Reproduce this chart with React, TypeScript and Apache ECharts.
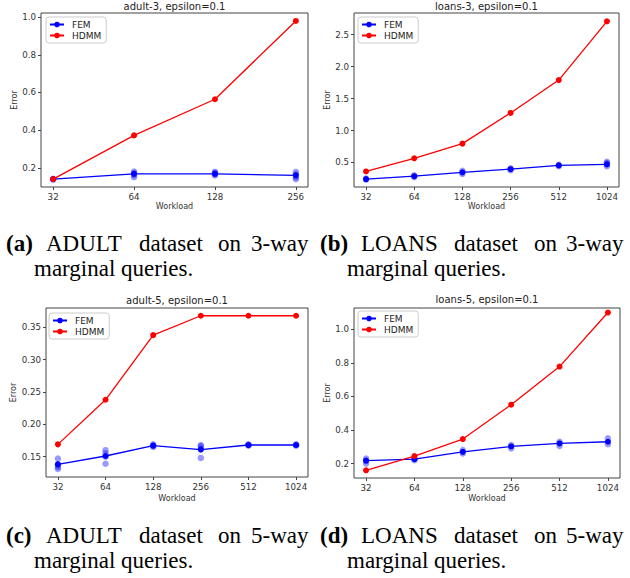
import React, { useEffect, useRef } from "react";
import * as echarts from "echarts";

// ---------- data ----------
const WORKLOADS_ADULT3 = [32, 64, 128, 256];
const HDMM_ADULT3 = [0.14, 0.372, 0.564, 0.98];
const FEM_ADULT3 = [0.14, 0.168, 0.168, 0.16];
const FEM_RUNS_ADULT3 = [
  [0.137, 0.142],
  [0.15, 0.162, 0.172, 0.18],
  [0.16, 0.166, 0.174, 0.178],
  [0.14, 0.15, 0.166, 0.178],
];

const WORKLOADS_LOANS3 = [32, 64, 128, 256, 512, 1024];
const HDMM_LOANS3 = [0.36, 0.565, 0.795, 1.275, 1.79, 2.71];
const FEM_LOANS3 = [0.24, 0.285, 0.345, 0.395, 0.455, 0.47];
const FEM_RUNS_LOANS3 = [
  [0.23, 0.25],
  [0.27, 0.3],
  [0.32, 0.37],
  [0.38, 0.41],
  [0.44, 0.465],
  [0.44, 0.49, 0.51],
];

const WORKLOADS_ADULT5 = [32, 64, 128, 256, 512, 1024];
const HDMM_ADULT5 = [0.169, 0.238, 0.338, 0.368, 0.368, 0.368];
const FEM_ADULT5 = [0.138, 0.151, 0.167, 0.161, 0.168, 0.168];
const FEM_RUNS_ADULT5 = [
  [0.131, 0.134, 0.138, 0.147],
  [0.139, 0.15, 0.155, 0.16],
  [0.165, 0.167, 0.169],
  [0.148, 0.162, 0.166, 0.168],
  [0.167, 0.168, 0.169],
  [0.167, 0.168, 0.169],
];

const WORKLOADS_LOANS5 = [32, 64, 128, 256, 512, 1024];
const HDMM_LOANS5 = [0.16, 0.245, 0.346, 0.551, 0.778, 1.1];
const FEM_LOANS5 = [0.218, 0.226, 0.27, 0.302, 0.32, 0.33];
const FEM_RUNS_LOANS5 = [
  [0.2, 0.215, 0.23],
  [0.22, 0.23],
  [0.26, 0.28],
  [0.29, 0.31],
  [0.305, 0.33],
  [0.315, 0.35],
];

const Y_TICKS_ADULT3 = [0.2, 0.4, 0.6, 0.8, 1.0];
const Y_TICKS_LOANS3 = [0.5, 1.0, 1.5, 2.0, 2.5];
const Y_TICKS_ADULT5 = [0.15, 0.2, 0.25, 0.3, 0.35];
const Y_TICKS_LOANS5 = [0.2, 0.4, 0.6, 0.8, 1.0];

const TITLES = ["adult-3, epsilon=0.1", "loans-3, epsilon=0.1", "adult-5, epsilon=0.1", "loans-5, epsilon=0.1"];
const SERIES_NAMES = ["FEM", "HDMM"];
const X_NAME = "Workload";
const Y_NAME = "Error";

const CAPTION_TAGS = ["(a)", "(b)", "(c)", "(d)"];
const CAPTION_LINE1 = [
  "ADULT dataset on 3-way",
  "LOANS dataset on 3-way",
  "ADULT dataset on 5-way",
  "LOANS dataset on 5-way",
];
const CAPTION_LINE2 = "marginal queries.";

// ---------- layout ----------
const PANELS = [
  {
    workloads: WORKLOADS_ADULT3, hdmm: HDMM_ADULT3, fem: FEM_ADULT3, runs: FEM_RUNS_ADULT3,
    yTicks: Y_TICKS_ADULT3, digits: 1, yMin: 0.098, yMax: 1.022, xMin: 4.85, xMax: 8.15,
    grid: { left: 41, top: 13, width: 267, height: 174 }, legend: { left: 46, top: 17 },
    titleY: 6, xNameGap: 15, yNameGap: 21,
  },
  {
    workloads: WORKLOADS_LOANS3, hdmm: HDMM_LOANS3, fem: FEM_LOANS3, runs: FEM_RUNS_LOANS3,
    yTicks: Y_TICKS_LOANS3, digits: 1, yMin: 0.116, yMax: 2.84, xMin: 4.75, xMax: 10.25,
    grid: { left: 354, top: 13, width: 265, height: 174 }, legend: { left: 358, top: 17 },
    titleY: 6, xNameGap: 15, yNameGap: 21,
  },
  {
    workloads: WORKLOADS_ADULT5, hdmm: HDMM_ADULT5, fem: FEM_ADULT5, runs: FEM_RUNS_ADULT5,
    yTicks: Y_TICKS_ADULT5, digits: 2, yMin: 0.1185, yMax: 0.38, xMin: 4.75, xMax: 10.25,
    grid: { left: 46, top: 308, width: 262, height: 169 }, legend: { left: 49, top: 313 },
    titleY: 300, xNameGap: 17, yNameGap: 26,
  },
  {
    workloads: WORKLOADS_LOANS5, hdmm: HDMM_LOANS5, fem: FEM_LOANS5, runs: FEM_RUNS_LOANS5,
    yTicks: Y_TICKS_LOANS5, digits: 1, yMin: 0.114, yMax: 1.127, xMin: 4.75, xMax: 10.25,
    grid: { left: 354, top: 308, width: 266, height: 170 }, legend: { left: 358, top: 311 },
    titleY: 299, xNameGap: 16, yNameGap: 21,
  },
];

// left edge of the tag, then of each word on line 1; left edge of line 2; line centres
const CAPTIONS = [
  { xs: [6, 46, 139, 218, 251], x2: 34, y1: 243, y2: 268 },
  { xs: [320, 361, 454, 534, 566], x2: 347, y1: 243, y2: 268 },
  { xs: [6, 46, 139, 218, 251], x2: 34, y1: 535, y2: 560 },
  { xs: [320, 361, 454, 534, 566], x2: 347, y1: 535, y2: 560 },
];

const CAP_FONT = 23;
const SERIF = '"Liberation Serif", "Times New Roman", serif';
const SANS = '"DejaVu Sans", sans-serif';

function buildCaptionGraphics() {
  const els: any[] = [];
  CAPTIONS.forEach((cap, i) => {
    els.push({
      type: "text", x: cap.xs[0], y: cap.y1,
      style: { text: CAPTION_TAGS[i], fontFamily: SERIF, fontWeight: "bold", fontSize: CAP_FONT, fill: "#000", textAlign: "left", textVerticalAlign: "middle" },
    });
    const words = CAPTION_LINE1[i].split(" ");
    words.forEach((w, k) => {
      els.push({
        type: "text", x: cap.xs[k + 1], y: cap.y1,
        style: { text: w, fontFamily: SERIF, fontSize: CAP_FONT, fill: "#000", textAlign: "left", textVerticalAlign: "middle" },
      });
    });
    els.push({
      type: "text", x: cap.x2, y: cap.y2,
      style: { text: CAPTION_LINE2, fontFamily: SERIF, fontSize: CAP_FONT, fill: "#000", textAlign: "left", textVerticalAlign: "middle" },
    });
  });
  return els;
}

function buildOption() {
  const grids: any[] = [];
  const xAxes: any[] = [];
  const yAxes: any[] = [];
  const series: any[] = [];
  const legends: any[] = [];
  const graphics: any[] = [];

  PANELS.forEach((p, i) => {
    grids.push({ ...p.grid, show: true, borderColor: "#444", borderWidth: 1, backgroundColor: "transparent", containLabel: false });
    const xTicks = p.workloads.map((w) => Math.log2(w));
    xAxes.push({
      type: "value", gridIndex: i, min: p.xMin, max: p.xMax,
      name: X_NAME, nameLocation: "middle", nameGap: p.xNameGap,
      nameTextStyle: { fontFamily: SANS, fontSize: 8, color: "#333" },
      axisLine: { show: false },
      axisTick: { show: true, length: 3, inside: false, customValues: xTicks, lineStyle: { color: "#444" } },
      axisLabel: { customValues: xTicks, margin: 5, fontFamily: SANS, fontSize: 8.7, color: "#333", formatter: (v: number) => String(Math.round(Math.pow(2, v))) },
      splitLine: { show: false },
    });
    yAxes.push({
      type: "value", gridIndex: i, min: p.yMin, max: p.yMax,
      name: Y_NAME, nameLocation: "middle", nameGap: p.yNameGap, nameRotate: 90,
      nameTextStyle: { fontFamily: SANS, fontSize: 8, color: "#333" },
      axisLine: { show: false },
      axisTick: { show: true, length: 3, inside: false, customValues: p.yTicks, lineStyle: { color: "#444" } },
      axisLabel: { customValues: p.yTicks, margin: 5, fontFamily: SANS, fontSize: 8.7, color: "#333", formatter: (v: number) => v.toFixed(p.digits) },
      splitLine: { show: false },
    });

    const runsData: number[][] = [];
    p.runs.forEach((vals, k) => vals.forEach((v) => runsData.push([xTicks[k], v])));
    series.push({
      type: "scatter", name: "FEM runs", xAxisIndex: i, yAxisIndex: i, data: runsData,
      symbol: "circle", symbolSize: 6.5, itemStyle: { color: "rgba(0,0,255,0.5)" }, z: 2, silent: true,
    });
    series.push({
      type: "line", name: SERIES_NAMES[0], xAxisIndex: i, yAxisIndex: i,
      data: p.fem.map((v, k) => [xTicks[k], v]),
      color: "#0000ff", symbol: "circle", symbolSize: 6, showSymbol: true,
      lineStyle: { width: 1.3, color: "#0000ff" }, itemStyle: { color: "#0000ff" }, z: 3,
    });
    series.push({
      type: "line", name: SERIES_NAMES[1], xAxisIndex: i, yAxisIndex: i,
      data: p.hdmm.map((v, k) => [xTicks[k], v]),
      color: "#ff0000", symbol: "circle", symbolSize: 6, showSymbol: true,
      lineStyle: { width: 1.3, color: "#ff0000" }, itemStyle: { color: "#ff0000" }, z: 4,
    });

    legends.push({
      data: SERIES_NAMES, orient: "vertical", left: p.legend.left, top: p.legend.top,
      itemWidth: 14, itemHeight: 7, itemGap: 2, padding: [3, 5, 3, 3],
      borderColor: "#ccc", borderWidth: 1, borderRadius: 3, backgroundColor: "#fff",
      textStyle: { fontFamily: SANS, fontSize: 9, color: "#222", padding: [0, 0, 0, 3] },
      selectedMode: false,
    });

    graphics.push({
      type: "text", x: p.grid.left + p.grid.width / 2, y: p.titleY,
      style: { text: TITLES[i], fontFamily: SANS, fontSize: 10, fill: "#222", textAlign: "center", textVerticalAlign: "middle" },
    });
  });

  return {
    animation: false,
    backgroundColor: "#fff",
    grid: grids,
    xAxis: xAxes,
    yAxis: yAxes,
    series,
    legend: legends,
    graphic: [...graphics, ...buildCaptionGraphics()],
  };
}

export default function App() {
  const ref = useRef<HTMLDivElement>(null);
  useEffect(() => {
    if (!ref.current) return;
    const chart = echarts.init(ref.current, null, { renderer: "svg" });
    chart.setOption(buildOption() as any);
    return () => chart.dispose();
  }, []);
  return (
    <div
      ref={ref}
      style={{ position: "absolute", left: 0, top: 0, width: 630, height: 578, background: "#fff" }}
    />
  );
}
